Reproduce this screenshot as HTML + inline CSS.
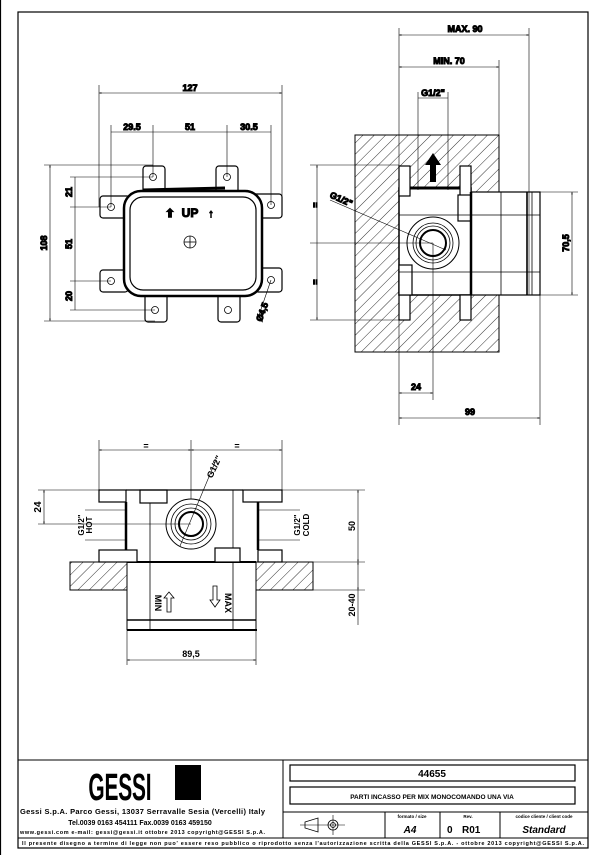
<!DOCTYPE html>
<html><head><meta charset="utf-8"><style>
html,body{margin:0;padding:0;background:#fff}
svg{display:block}
text{font-family:"Liberation Sans",Arial,sans-serif;font-weight:bold;fill:#000}
</style></head><body>
<svg width="606" height="855" viewBox="0 0 606 855" xmlns="http://www.w3.org/2000/svg">
<defs>
<pattern id="h" patternUnits="userSpaceOnUse" width="8" height="8" patternTransform="rotate(45)">
<rect width="8" height="8" fill="#fff"/><line x1="0" y1="0" x2="0" y2="8" stroke="#000" stroke-width="0.8"/>
</pattern>
<marker id="a" viewBox="0 0 10 10" refX="10" refY="5" markerWidth="6" markerHeight="4" orient="auto-start-reverse"><path d="M0,2 L10,5 L0,8z" fill="#000"/></marker>
</defs>
<g fill="none" stroke="#000">
<line x1="0.5" y1="0" x2="0.5" y2="855" stroke-width="1.2"/>
<!-- frame -->
<rect x="18" y="12" width="570" height="836" stroke-width="1.2"/>
<line x1="18" y1="760" x2="588" y2="760"/>
<line x1="283" y1="760" x2="283" y2="838"/>
<line x1="283" y1="812" x2="588" y2="812"/>
<line x1="18" y1="838" x2="588" y2="838"/>
<rect x="290" y="765" width="285" height="16" stroke-width="1.2"/>
<rect x="290" y="787" width="285" height="17" stroke-width="1.2"/>
<line x1="385" y1="812" x2="385" y2="838"/><line x1="440" y1="812" x2="440" y2="838"/><line x1="500" y1="812" x2="500" y2="838"/>
<path d="M305,822 L318,818 L318,832 L305,828z" stroke-width="0.8"/>
<circle cx="333" cy="825" r="5" stroke-width="0.8"/><circle cx="333" cy="825" r="2.5" stroke-width="0.8"/>
<line x1="300" y1="825" x2="345" y2="825" stroke-width="0.6"/><line x1="333" y1="815" x2="333" y2="835" stroke-width="0.6"/>

<!-- TOP LEFT VIEW -->
<g stroke-width="1.2">
<rect x="143" y="166" width="22" height="30" rx="3"/><rect x="216" y="166" width="22" height="30" rx="3"/>
<rect x="100" y="196" width="30" height="22" rx="3"/><rect x="252" y="194" width="30" height="24" rx="3"/>
<rect x="100" y="270" width="28" height="22" rx="3"/><rect x="255" y="268" width="27" height="24" rx="3"/>
<rect x="145" y="292" width="22" height="30" rx="3"/><rect x="218" y="292" width="22" height="30" rx="3"/>
</g>
<rect x="124" y="191" width="138" height="105" rx="17" fill="#fff" stroke-width="2.5"/>
<rect x="130" y="197" width="126" height="93" rx="13" stroke-width="1.2"/>
<line x1="143" y1="190" x2="225" y2="188" stroke-width="3"/>
<g stroke-width="0.8">
<circle cx="153" cy="177" r="3.5"/><circle cx="227" cy="177" r="3.5"/>
<circle cx="111" cy="207" r="3.5"/><circle cx="271" cy="205" r="3.5"/>
<circle cx="111" cy="281" r="3.5"/><circle cx="271" cy="280" r="3.5"/>
<circle cx="155" cy="310" r="3.5"/><circle cx="228" cy="310" r="3.5"/>
<circle cx="190" cy="242" r="6"/><line x1="184" y1="242" x2="196" y2="242"/><line x1="190" y1="236" x2="190" y2="248"/>
</g>
<g stroke-width="0.6">
<line x1="99" y1="85" x2="99" y2="207"/><line x1="282" y1="85" x2="282" y2="205"/>
<line x1="99" y1="93" x2="282" y2="93" marker-start="url(#a)" marker-end="url(#a)"/>
<line x1="111" y1="125" x2="111" y2="207"/><line x1="153" y1="125" x2="153" y2="177"/><line x1="227" y1="125" x2="227" y2="177"/><line x1="271" y1="125" x2="271" y2="205"/>
<line x1="111" y1="132" x2="271" y2="132"/>
<line x1="44" y1="165" x2="153" y2="165"/><line x1="44" y1="321" x2="155" y2="321"/>
<line x1="50" y1="165" x2="50" y2="321" marker-start="url(#a)" marker-end="url(#a)"/>
<line x1="70" y1="177" x2="153" y2="177"/><line x1="70" y1="207" x2="111" y2="207"/><line x1="70" y1="281" x2="111" y2="281"/><line x1="70" y1="310" x2="155" y2="310"/>
<line x1="75" y1="177" x2="75" y2="310"/>
<line x1="271" y1="280" x2="258" y2="318"/>
</g>
<text x="190" y="91" font-size="9" text-anchor="middle">127</text>
<text x="132" y="130" font-size="9" text-anchor="middle">29.5</text>
<text x="190" y="130" font-size="9" text-anchor="middle">51</text>
<text x="249" y="130" font-size="9" text-anchor="middle">30.5</text>
<text font-size="9" text-anchor="middle" transform="translate(47,243) rotate(-90)">108</text>
<text font-size="9" text-anchor="middle" transform="translate(72,192) rotate(-90)">21</text>
<text font-size="9" text-anchor="middle" transform="translate(72,244) rotate(-90)">51</text>
<text font-size="9" text-anchor="middle" transform="translate(72,296) rotate(-90)">20</text>
<text font-size="9" text-anchor="middle" transform="translate(265,313) rotate(-70)">Ø4,5</text>
<text x="190" y="217" font-size="12" text-anchor="middle">UP</text>
<text x="170" y="217" font-size="11" text-anchor="middle" font-weight="normal">⇧</text>
<text x="211" y="217" font-size="11" text-anchor="middle" font-weight="normal">↑</text>

<!-- TOP RIGHT VIEW -->
<rect x="355" y="135" width="144" height="217" fill="url(#h)" stroke-width="1"/>
<rect x="399" y="188" width="72" height="107" fill="#fff" stroke-width="1.5"/>
<g fill="#fff" stroke-width="1.2">
<rect x="399" y="166" width="11" height="30"/><rect x="460" y="166" width="11" height="30"/>
<rect x="399" y="295" width="11" height="25"/><rect x="460" y="295" width="11" height="25"/>
<rect x="399" y="265" width="13" height="30"/><rect x="458" y="195" width="13" height="26"/>
<rect x="471" y="192" width="69" height="103"/>
</g>
<line x1="410" y1="188" x2="460" y2="188" stroke-width="3"/>
<line x1="471" y1="192" x2="471" y2="295" stroke-width="2.5"/>
<g stroke-width="0.8">
<line x1="399" y1="215" x2="540" y2="215"/><line x1="399" y1="272" x2="540" y2="272"/>
<line x1="501" y1="192" x2="501" y2="295"/><line x1="527" y1="192" x2="527" y2="295" stroke-width="1.6"/><line x1="532" y1="192" x2="532" y2="295"/>
<circle cx="433" cy="243" r="26" fill="#fff" stroke-width="1"/><circle cx="433" cy="243" r="20"/><circle cx="433" cy="243" r="17"/><circle cx="433" cy="243" r="13" stroke-width="2"/>
</g>
<path d="M433,153 L441,165 L436,165 L436,182 L430,182 L430,165 L425,165z" fill="#000" stroke="none"/>
<g stroke-width="0.6">
<line x1="399" y1="28" x2="399" y2="425"/><line x1="529" y1="28" x2="529" y2="295"/><line x1="499" y1="60" x2="499" y2="135"/>
<line x1="399" y1="35" x2="529" y2="35" marker-start="url(#a)" marker-end="url(#a)"/>
<line x1="399" y1="67" x2="499" y2="67" marker-start="url(#a)" marker-end="url(#a)"/>
<line x1="418" y1="92" x2="418" y2="190"/><line x1="448" y1="92" x2="448" y2="190"/><line x1="418" y1="98" x2="448" y2="98"/>
<line x1="310" y1="165" x2="399" y2="165"/><line x1="310" y1="320" x2="399" y2="320"/><line x1="310" y1="243" x2="433" y2="243"/>
<line x1="317" y1="165" x2="317" y2="320" marker-start="url(#a)" marker-end="url(#a)"/>
<line x1="433" y1="243" x2="433" y2="400"/><line x1="540" y1="295" x2="540" y2="425"/>
<line x1="540" y1="192" x2="578" y2="192"/><line x1="540" y1="295" x2="578" y2="295"/>
<line x1="572" y1="192" x2="572" y2="295" marker-start="url(#a)" marker-end="url(#a)"/>
<line x1="399" y1="393" x2="433" y2="393" marker-start="url(#a)" marker-end="url(#a)"/>
<line x1="399" y1="418" x2="540" y2="418" marker-start="url(#a)" marker-end="url(#a)"/>
<line x1="330" y1="200" x2="446" y2="250" marker-end="url(#a)"/>
</g>
<text x="465" y="32" font-size="9" text-anchor="middle">MAX. 90</text>
<text x="449" y="64" font-size="9" text-anchor="middle">MIN. 70</text>
<text x="433" y="96" font-size="9" text-anchor="middle">G1/2"</text>
<text font-size="9" text-anchor="middle" transform="translate(340,202) rotate(24)">G1/2"</text>
<text font-size="9" text-anchor="middle" transform="translate(312,205) rotate(90)">=</text>
<text font-size="9" text-anchor="middle" transform="translate(312,282) rotate(90)">=</text>
<text font-size="9" text-anchor="middle" transform="translate(569,243) rotate(-90)">70,5</text>
<text x="416" y="390" font-size="9" text-anchor="middle">24</text>
<text x="470" y="415" font-size="9" text-anchor="middle">99</text>

<!-- BOTTOM VIEW -->
<rect x="70" y="562" width="57" height="28" fill="url(#h)" stroke-width="1"/>
<rect x="256" y="562" width="57" height="28" fill="url(#h)" stroke-width="1"/>
<line x1="127" y1="562" x2="256" y2="562" stroke-width="2"/>
<line x1="127" y1="590" x2="127" y2="630"/><line x1="256" y1="590" x2="256" y2="630"/>
<line x1="150" y1="490" x2="150" y2="630" stroke-width="0.8"/><line x1="233" y1="490" x2="233" y2="630" stroke-width="0.8"/>
<line x1="127" y1="620" x2="256" y2="620" stroke-width="1.5"/><line x1="127" y1="630" x2="257" y2="630" stroke-width="2"/>
<g stroke-width="1.2" fill="#fff">
<rect x="99" y="490" width="27" height="12"/><rect x="140" y="490" width="27" height="13"/><rect x="243" y="490" width="39" height="12"/>
<rect x="99" y="550" width="38" height="12"/><rect x="215" y="548" width="25" height="14"/><rect x="258" y="550" width="24" height="12"/>
</g>
<line x1="126" y1="490" x2="243" y2="490" stroke-width="1.2"/>
<line x1="126" y1="502" x2="126" y2="550" stroke-width="2.5"/><line x1="258" y1="502" x2="258" y2="550" stroke-width="2.5"/>
<line x1="191" y1="440" x2="191" y2="524" stroke-width="0.6"/>
<circle cx="191" cy="524" r="25" fill="#fff" stroke-width="1"/><circle cx="191" cy="524" r="20" stroke-width="0.8"/><circle cx="191" cy="524" r="16" stroke-width="0.8"/><circle cx="191" cy="524" r="12" stroke-width="2"/>
<g stroke-width="0.6">
<line x1="99" y1="440" x2="99" y2="490"/><line x1="282" y1="440" x2="282" y2="490"/>
<line x1="99" y1="450" x2="191" y2="450" marker-start="url(#a)" marker-end="url(#a)"/>
<line x1="191" y1="450" x2="282" y2="450" marker-start="url(#a)" marker-end="url(#a)"/>
<line x1="180" y1="546" x2="216" y2="460"/>
<line x1="38" y1="490" x2="99" y2="490"/><line x1="38" y1="524" x2="191" y2="524"/>
<line x1="44" y1="490" x2="44" y2="524" marker-start="url(#a)" marker-end="url(#a)"/>
<line x1="282" y1="490" x2="365" y2="490"/><line x1="313" y1="562" x2="365" y2="562"/><line x1="313" y1="590" x2="365" y2="590"/>
<line x1="358" y1="490" x2="358" y2="562" marker-start="url(#a)" marker-end="url(#a)"/>
<line x1="358" y1="562" x2="358" y2="590" marker-start="url(#a)" marker-end="url(#a)"/>
<line x1="358" y1="590" x2="358" y2="625"/>
<line x1="127" y1="630" x2="127" y2="665"/><line x1="256" y1="630" x2="256" y2="665"/>
<line x1="127" y1="660" x2="256" y2="660" marker-start="url(#a)" marker-end="url(#a)"/>
<line x1="85" y1="510" x2="125" y2="510"/><line x1="85" y1="540" x2="125" y2="540"/>
<line x1="258" y1="510" x2="300" y2="510"/><line x1="258" y1="540" x2="300" y2="540"/>
</g>
<path d="M164,598 L169,592 L174,598 L171,598 L171,612 L167,612 L167,598z" stroke-width="0.8"/>
<path d="M210,600 L213,600 L213,586 L217,586 L217,600 L220,600 L215,607z" stroke-width="0.8"/>
</g>
<text x="146" y="449" font-size="9" text-anchor="middle">=</text>
<text x="237" y="449" font-size="9" text-anchor="middle">=</text>
<text font-size="9" text-anchor="middle" transform="translate(217,468) rotate(-65)">G1/2"</text>
<text font-size="10" text-anchor="middle" transform="translate(41,507) rotate(-90)">24</text>
<text font-size="8" text-anchor="middle" transform="translate(84,525) rotate(-90)">G1/2"</text>
<text font-size="8" text-anchor="middle" transform="translate(92,525) rotate(-90)">HOT</text>
<text font-size="8" text-anchor="middle" transform="translate(300,525) rotate(-90)">G1/2"</text>
<text font-size="8" text-anchor="middle" transform="translate(309,525) rotate(-90)">COLD</text>
<text font-size="9" text-anchor="middle" transform="translate(355,526) rotate(-90)">50</text>
<text font-size="9" text-anchor="middle" transform="translate(355,605) rotate(-90)">20-40</text>
<text font-size="9" text-anchor="middle" transform="translate(155,603) rotate(90)">MIN</text>
<text font-size="9" text-anchor="middle" transform="translate(225,603) rotate(90)">MAX</text>
<text x="191" y="657" font-size="9" text-anchor="middle">89,5</text>

<!-- TITLE -->
<text x="120" y="800" font-size="38" text-anchor="middle" font-family="Liberation Sans Narrow,Liberation Sans,sans-serif" transform="translate(120,0) scale(0.55,1) translate(-120,0)" textLength="115">GESSI</text>
<rect x="175" y="765" width="26" height="35" fill="#000"/>
<text x="20" y="814" font-size="7.5" font-weight="normal" textLength="245">Gessi S.p.A. Parco Gessi, 13037 Serravalle Sesia (Vercelli) Italy</text>
<text x="140" y="825" font-size="7" text-anchor="middle" font-weight="normal">Tel.0039 0163 454111 Fax.0039 0163 459150</text>
<text x="20" y="834" font-size="5.5" font-weight="normal" textLength="245">www.gessi.com e-mail: gessi@gessi.it ottobre 2013 copyright@GESSI S.p.A.</text>
<text x="432" y="777" font-size="10" text-anchor="middle">44655</text>
<text x="432" y="799" font-size="6.5" text-anchor="middle">PARTI INCASSO PER MIX MONOCOMANDO UNA VIA</text>
<text x="412" y="818" font-size="4.5" text-anchor="middle" font-weight="normal">formato / size</text>
<text x="410" y="833" font-size="10" text-anchor="middle" font-weight="normal" font-style="italic">A4</text>
<text x="468" y="818" font-size="4.5" text-anchor="middle" font-weight="normal">Rev.</text>
<text x="447" y="833" font-size="10" font-weight="normal">0</text>
<text x="462" y="833" font-size="10" font-weight="normal">R01</text>
<text x="544" y="818" font-size="4.5" text-anchor="middle" font-weight="normal">codice cliente / client code</text>
<text x="544" y="833" font-size="10" text-anchor="middle" font-weight="normal" font-style="italic">Standard</text>
<text x="22" y="845" font-size="5.5" font-weight="normal" textLength="562">Il presente disegno a termine di legge non puo' essere reso pubblico o riprodotto senza l'autorizzazione scritta della GESSI S.p.A. - ottobre 2013 copyright@GESSI S.p.A.</text>
</svg>
</body></html>
